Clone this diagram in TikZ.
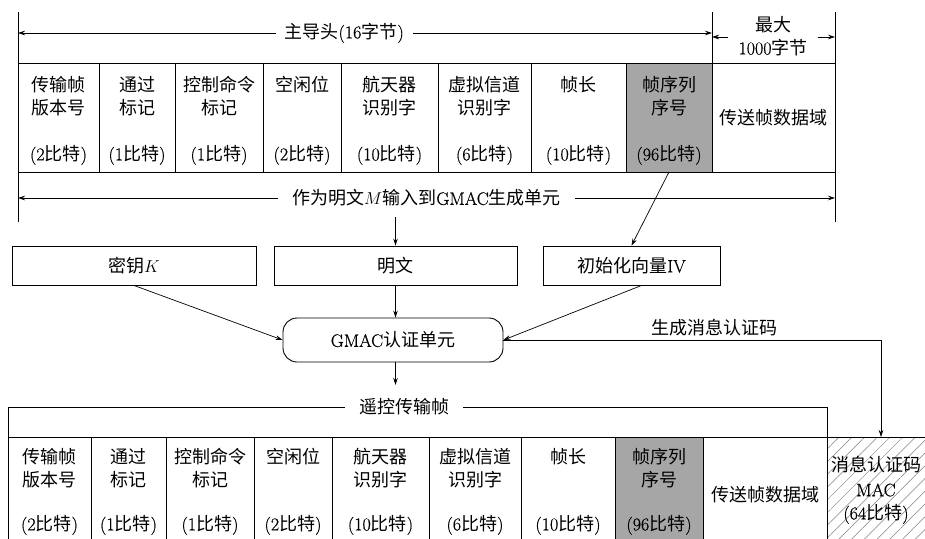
\documentclass[tikz,border=0pt]{standalone}
\usepackage{fontspec}
\setmainfont{Latin Modern Roman}[FakeBold=0.6]
\newfontfamily\cjk{Noto Sans CJK SC}
\newcommand\zh[1]{{\cjk #1}}
\usetikzlibrary{arrows.meta,patterns.meta}
\begin{document}
\begin{tikzpicture}[x=1pt,y=-1pt,
  every node/.style={font=\fontsize{18}{23}\selectfont},
  cell/.style={draw,line width=0.9pt,inner sep=0pt,outer sep=0pt},
  lbl/.style={inner sep=0pt},
  ln/.style={line width=0.7pt},
  arr/.style={line width=0.7pt,-{Stealth[length=7pt,width=4.5pt]}},
  darr/.style={line width=0.7pt,{Stealth[length=7pt,width=4.5pt]}-{Stealth[length=7pt,width=4.5pt]}},
  box/.style={draw,line width=0.9pt,inner sep=0pt,minimum height=39pt},
]
\clip (0,0) rectangle (925,538);

% ---- top frame ----
\foreach \i/\xa/\xb/\la/\lb/\bits/\fc in {
 1/18/99/传输帧/版本号/2/white, 2/99/175/通过/标记/1/white,
 3/175/263/控制命令/标记/1/white, 4/263/341/空闲位//2/white,
 5/341/438/航天器/识别字/10/white, 6/438/531/虚拟信道/识别字/6/white,
 7/531/626/帧长//10/white, 8/626/712/帧序列/序号/96/black!35}
{
 \node[cell, fill=\fc, minimum width={\xb pt-\xa pt}, minimum height=109pt] (t\i) at ({(\xa+\xb)/2},117.5) {};
 \node[lbl] (t\i a) at ({(\xa+\xb)/2},85) {\zh{\la}};
 \node[lbl] (t\i b) at ({(\xa+\xb)/2},108) {\zh{\lb}};
 \node[lbl] (t\i c) at ({(\xa+\xb)/2},155) {(\bits\zh{比特})};
}
\node[cell, minimum width=123pt, minimum height=109pt] (t9) at (773.5,117.5) {\zh{传送帧数据域}};

\coordinate (l1t) at (18,12);  \coordinate (l1b) at (18,222);
\coordinate (l2t) at (712,12);
\coordinate (l3t) at (835,12); \coordinate (l3b) at (835,222);
\draw[ln] (l1t) -- (l1b);
\draw[ln] (l2t) -- (t8.north east);
\draw[ln] (l3t) -- (l3b);

\coordinate (ha) at (18,33); \coordinate (hb) at (712,33);
\draw[darr] (ha) -- node[pos=0.47, fill=white, inner xsep=9pt, inner ysep=0pt] (hdr) {\zh{主导头}(16\zh{字节})} (hb);

\node[lbl, align=center, inner xsep=10pt] (max) at (773,36) {\zh{最大}\\1000\zh{字节}};
\coordinate (ml) at (712,37); \coordinate (mr) at (835,37);
\draw[arr] (max.west |- ml) -- (ml);
\draw[arr] (max.east |- mr) -- (mr);

\coordinate (ma) at (18,198); \coordinate (mb) at (835,198);
\draw[darr] (ma) -- node[pos=0.5, fill=white, inner xsep=14pt, inner ysep=0pt] (mtxt) {\zh{作为明文}$M$\zh{输入到}GMAC\zh{生成单元}} (mb);

% ---- inputs ----
\node[box, minimum width=244pt] (key) at (134,265.5) {\zh{密钥}$K$};
\node[box, minimum width=243pt] (pt) at (395.5,265.5) {\zh{明文}};
\node[box, minimum width=177pt] (iv) at (631.5,265.5) {\zh{初始化向量}IV};

\coordinate (pin) at (395.5,217);
\draw[arr] (pin) -- (pt.north);
\draw[arr] (t8.south) -- (iv.north);

\node[draw, line width=0.9pt, inner sep=0pt, rounded corners=14pt,
      minimum width=220pt, minimum height=44pt] (gm) at (393,340) {GMAC\zh{认证单元}};

\draw[arr] (key.south) -- (gm.west);
\draw[arr] (pt.south) -- (pt.south |- gm.north);
\draw[arr] ([xshift=10pt]iv.south) -- (gm.east);

% ---- bottom frame ----
\foreach \i/\xa/\xb/\la/\lb/\bits/\fc in {
 1/8/91/传输帧/版本号/2/white, 2/91/166/通过/标记/1/white,
 3/166/254/控制命令/标记/1/white, 4/254/332/空闲位//2/white,
 5/332/429/航天器/识别字/10/white, 6/429/521/虚拟信道/识别字/6/white,
 7/521/615/帧长//10/white, 8/615/703/帧序列/序号/96/black!35}
{
 \node[cell, fill=\fc, minimum width={\xb pt-\xa pt}, minimum height=108pt] (b\i) at ({(\xa+\xb)/2},491) {};
 \node[lbl] (b\i a) at ({(\xa+\xb)/2},457) {\zh{\la}};
 \node[lbl] (b\i b) at ({(\xa+\xb)/2},480) {\zh{\lb}};
 \node[lbl] (b\i c) at ({(\xa+\xb)/2},525) {(\bits\zh{比特})};
}
\node[cell, minimum width=124pt, minimum height=108pt] (b9) at (765,491) {};
\node[lbl] (b9a) at (765,495) {\zh{传送帧数据域}};

\node[cell, minimum width=108pt, minimum height=108pt,
      pattern={Lines[angle=45,distance=9pt,line width=0.5pt]}, pattern color=gray] (mac) at (881,491) {};
\node[lbl] (maca) at (876,465) {\zh{消息认证码}};
\node[lbl] (macb) at (876,490) {MAC};
\node[lbl] (macc) at (876,514) {(64\zh{比特})};

\node[lbl, fill=white, inner xsep=14pt, inner ysep=2pt] (tf) at (404,407) {\zh{遥控传输帧}};
\draw[ln] (b1.north west) |- (tf.west);
\draw[ln] (tf.east) -| (b9.north east);

\coordinate (tin) at (395.5,385);
\draw[arr] (pt.south |- gm.south) -- (tin);

\draw[arr] (gm.east) -| node[pos=0.28, above, inner sep=4pt] (gen) {\zh{生成消息认证码}} (mac.north);
\end{tikzpicture}
\end{document}
